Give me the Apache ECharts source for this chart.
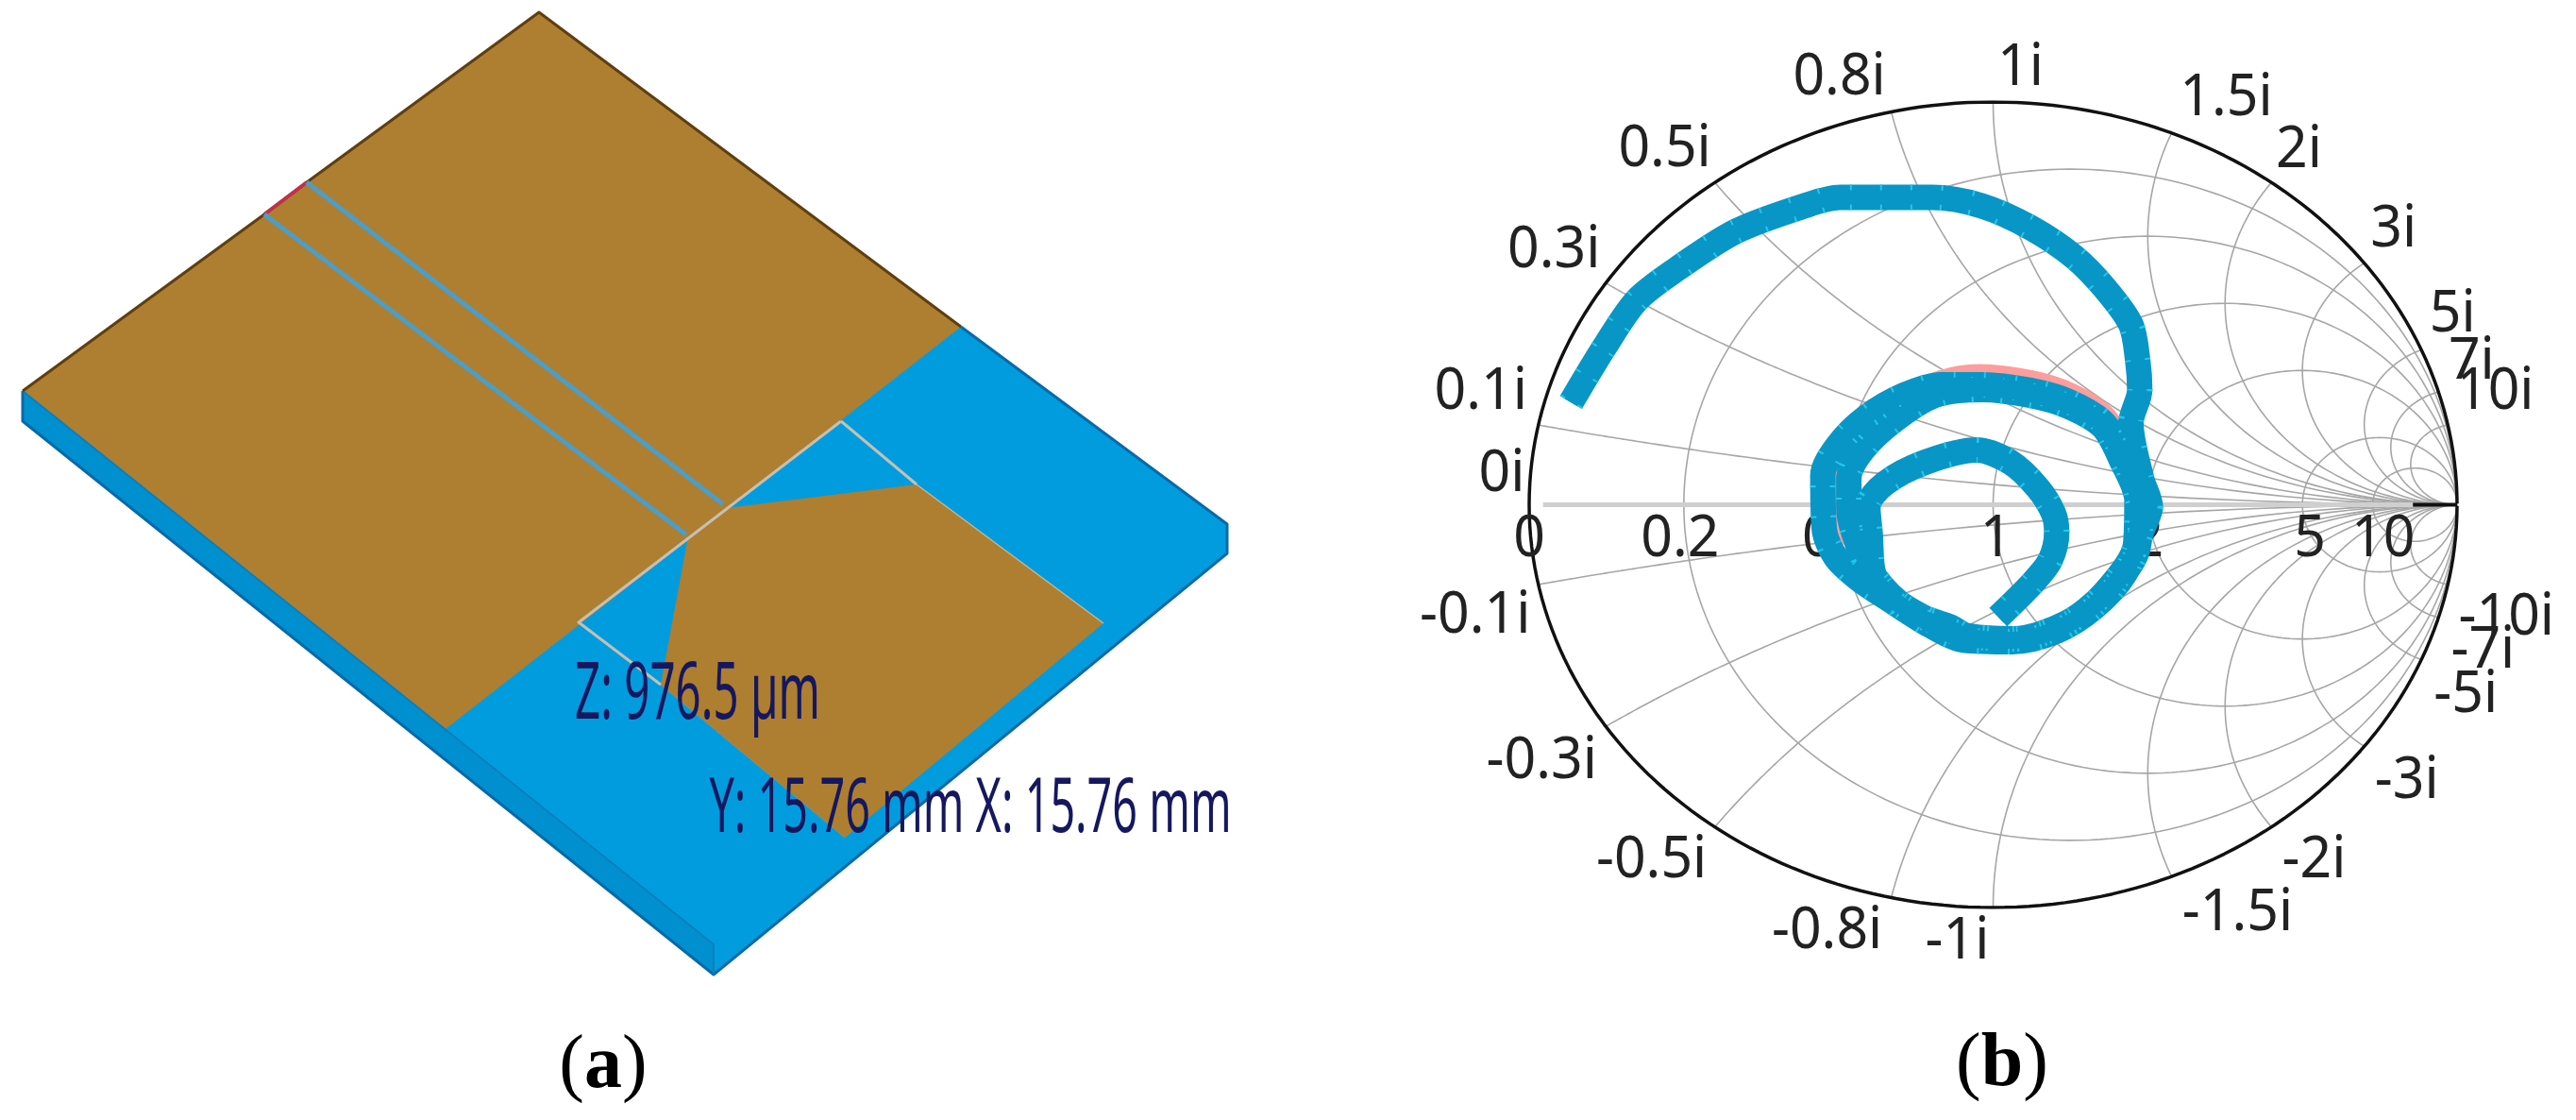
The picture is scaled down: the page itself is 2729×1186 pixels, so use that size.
<!DOCTYPE html>
<html>
<head>
<meta charset="utf-8">
<style>
  html, body { margin: 0; padding: 0; background: #fff; }
  #chart { width: 2729px; height: 1186px; }
</style>
<script src="https://cdn.jsdelivr.net/npm/echarts@6/dist/echarts.min.js"></script>
</head>
<body>
<div id="chart"></div>
<script>
// smith chart ticks
const realTicks = [0, 0.2, 0.5, 1, 2, 5, 10];
const imagTicks = [0.1, 0.3, 0.5, 0.8, 1, 1.5, 2, 3, 5, 7, 10];

const traceRe = [-0.910, -0.837, -0.768, -0.682, -0.554, -0.407, -0.330, -0.132, -0.024, 0.081, 0.175, 0.242, 0.297, 0.312, 0.316, 0.297,
  0.320, 0.339, 0.322, 0.283, 0.218, 0.137, 0.042, -0.063, -0.138, -0.223, -0.289, -0.340, -0.364, -0.367, -0.335, -0.274, -0.192, -0.111, -0.023, 0.079, 0.161, 0.236, 0.274,
  0.304, 0.318, 0.307, 0.239, 0.158, 0.045, -0.057, -0.125, -0.206, -0.270, -0.301, -0.311, -0.311, -0.281, -0.213, -0.125, -0.023, 0.079, 0.161, 0.236, 0.276,
  0.310, 0.307, 0.239, 0.158, 0.045, -0.057, -0.091, -0.182, -0.257, -0.265, -0.270,
  -0.233, -0.145, -0.036, 0.038, 0.096, 0.130, 0.137, 0.123, 0.086, 0.011];
const traceIm = [0.254, 0.393, 0.508, 0.585, 0.679, 0.742, 0.763, 0.763, 0.742, 0.688, 0.615, 0.536, 0.447, 0.355, 0.285, 0.203,
  0.065, -0.005, -0.060, -0.173, -0.255, -0.314, -0.340, -0.336, -0.298, -0.236, -0.185, -0.129, -0.060, 0.073, 0.147, 0.217, 0.272, 0.298, 0.298, 0.284, 0.257, 0.206, 0.136,
  0.042, -0.029, -0.126, -0.228, -0.298, -0.333, -0.325, -0.294, -0.240, -0.154, -0.068, -0.005, 0.065, 0.136, 0.210, 0.272, 0.286, 0.272, 0.245, 0.194, 0.112,
  0.010, -0.099, -0.220, -0.294, -0.333, -0.325, -0.304, -0.263, -0.173, -0.072, -0.005,
  0.053, 0.106, 0.136, 0.105, 0.042, -0.021, -0.068, -0.138, -0.193, -0.279];
// second trace, almost hidden under the first
const pinkRe = [-0.338, -0.338, -0.301, -0.206, -0.111, -0.029, 0.079, 0.167, 0.236, 0.269];
const pinkIm = [-0.099, 0.089, 0.167, 0.253, 0.304, 0.319, 0.304, 0.272, 0.221, 0.167];

// panel (a) outlines, in scene units
const substrate = [[571, 13], [1018, 346], [1300, 555], [1300, 586], [756, 1032], [24, 446], [24, 414]];
const substrateSide = [[24, 414], [24, 446], [756, 1032], [756, 1000]];
const patchMain = [[571, 13], [1018, 346], [472, 772], [24, 414]];
const patchFeed = [[769, 538], [971, 513], [1169, 660], [895, 887], [700, 725], [729, 568]];
const slotUpper = [[325, 193], [766, 534]];
const slotLower = [[280, 227], [727, 566]];
const slotEnd = [[325, 193], [280, 227]];
const edgeTop = [[24, 414], [280, 227], [325, 193], [571, 13], [1018, 346]];
const edgeBlue = [[1018, 346], [1300, 555], [1300, 586], [756, 1032], [24, 446], [24, 414]];
const edgeRidge = [[24, 414], [756, 1000], [756, 1032]];
const seamUpper = [[891, 446], [971, 513]];
const seamRight = [[971, 513], [1169, 660]];
const seamMiddle = [[891, 446], [613, 659], [700, 725]];
const seamLower = [[700, 725], [895, 887]];

const dimensionLabels = ['Z: 976.5 µm', 'Y: 15.76 mm X: 15.76 mm'];

// pixel offset of every tick label from its point on the chart
const realLabelOffset = [[0, 37], [-4, 37], [3, 37], [3, 37], [0, 37], [8, 37], [11, 37]];
const upperLabelOffset = [[-61, -35], [-55, -34], [-53, -35], [-55, -36], [29, -36], [58, -36], [29, -34], [31, -35], [33, -37], [35, -32], [50, -35]];
const lowerLabelOffset = [[-67, 33], [-68, 37], [-67, 36], [-68, 36], [-38, 36], [70, 39], [45, 36], [45, 37], [47, 38], [47, 35], [62, 35]];

const BROWN = '#ae7f30';
const BLUE = '#009cde';
const TRACE = '#0896c6';
const GRID_LINE = '#a6a6a6';

function toGamma(r, x) {
  const d = (r + 1) * (r + 1) + x * x;
  return [(r * r + x * x - 1) / d, 2 * x / d];
}

function resistanceCircle(r) {
  const pts = [];
  for (let i = -120; i <= 120; i++) {
    pts.push(toGamma(r, (1 + r) * Math.tan(i / 120 * Math.PI / 2 * 0.999)));
  }
  return pts;
}

function reactanceArc(x) {
  const pts = [];
  for (let i = 0; i <= 120; i++) {
    pts.push(toGamma(Math.abs(x) * Math.tan(i / 120 * Math.PI / 2 * 0.999), x));
  }
  return pts;
}

function pairs(a, b) {
  return a.map((v, i) => [v, b[i]]);
}

function polygon(points, color, z) {
  return {
    type: 'custom', xAxisIndex: 0, yAxisIndex: 0, z: z, silent: true,
    data: [0],
    renderItem(params, api) {
      return {
        type: 'polygon',
        shape: { points: points.map(p => api.coord(p)) },
        style: { fill: color }
      };
    }
  };
}

function panelLine(points, color, width, z) {
  return {
    type: 'line', xAxisIndex: 0, yAxisIndex: 0, z: z, silent: true,
    data: points, showSymbol: false, animation: false,
    lineStyle: { color: color, width: width, cap: 'butt', join: 'round' }
  };
}

function smithLine(points, color, width, z, extra, smooth) {
  return {
    type: 'line', xAxisIndex: 1, yAxisIndex: 1, z: z, silent: true,
    data: points, showSymbol: false, animation: false, smooth: smooth || false,
    lineStyle: Object.assign({ color: color, width: width, cap: 'butt', join: 'round' }, extra || {})
  };
}

// tick labels of the smith chart, squeezed a little like the original plot
function tickLabels() {
  const items = [];
  realTicks.forEach((t, i) => {
    items.push({ text: String(t), at: toGamma(t, 0), off: realLabelOffset[i] });
  });
  items.push({ text: '0i', at: [-1, 0], off: [-29, -32] });
  imagTicks.forEach((t, i) => {
    items.push({ text: t + 'i', at: toGamma(0, t), off: upperLabelOffset[i] });
    items.push({ text: '-' + t + 'i', at: toGamma(0, -t), off: lowerLabelOffset[i] });
  });
  return {
    type: 'custom', xAxisIndex: 1, yAxisIndex: 1, z: 4, silent: true,
    data: items.map((d, i) => i),
    renderItem(params, api) {
      const d = items[params.dataIndex];
      const c = api.coord(d.at);
      return {
        type: 'text', x: c[0] + d.off[0], y: c[1] + d.off[1], scaleX: 0.95,
        style: { text: d.text, fill: '#222', font: '62px "Noto Sans"', align: 'center', verticalAlign: 'middle' }
      };
    }
  };
}

function dimensionText() {
  const spots = [[[739, 737], 0.565, 84], [[1028, 858], 0.584, 80]];
  return {
    type: 'custom', xAxisIndex: 0, yAxisIndex: 0, z: 9, silent: true,
    data: [0, 1],
    renderItem(params, api) {
      const s = spots[params.dataIndex];
      const c = api.coord(s[0]);
      return {
        type: 'text', x: c[0], y: c[1], scaleX: s[1],
        style: { text: dimensionLabels[params.dataIndex], fill: '#15185f', font: s[2] + 'px "Noto Sans"', align: 'center', verticalAlign: 'middle' }
      };
    }
  };
}

const series = [
  polygon(substrate, BLUE, 1),
  polygon(substrateSide, '#0090cf', 2),
  polygon(patchMain, BROWN, 3),
  polygon(patchFeed, BROWN, 3),
  panelLine(edgeBlue, '#0a6aa8', 3, 4),
  panelLine(edgeRidge, '#0a7fbe', 2, 4),
  panelLine(edgeTop, '#5f3f10', 3, 5),
  panelLine(slotEnd, '#c0304a', 4, 6),
  panelLine(slotUpper, '#4e9dc4', 5, 6),
  panelLine(slotLower, '#4e9dc4', 5, 6),
  panelLine(seamUpper, '#c4c0b4', 3, 6),
  panelLine(seamRight, '#c4b890', 1.5, 6),
  panelLine(seamMiddle, '#c4c0b4', 3, 6),
  panelLine(seamLower, '#9a8a68', 1, 6),
  dimensionText()
];

realTicks.slice(1).forEach(r => {
  series.push(smithLine(resistanceCircle(r), GRID_LINE, 1.6, 2));
});
imagTicks.forEach(x => {
  series.push(smithLine(reactanceArc(x), GRID_LINE, 1.6, 2));
  series.push(smithLine(reactanceArc(-x), GRID_LINE, 1.6, 2));
});
series.push(smithLine([[-0.97, 0], [0.905, 0]], '#cfcfcf', 5, 2));
series.push(smithLine([[0.905, 0], [1, 0]], '#111', 4, 3));
series.push(smithLine(resistanceCircle(0), '#111', 3.5, 3));
series.push(tickLabels());
series.push(smithLine(pairs(pinkRe, pinkIm), '#ff9c9c', 26, 5, null, 0.3));
series.push(smithLine(pairs(traceRe, traceIm), TRACE, 27, 6, null, 0.3));
series.push(smithLine(pairs(traceRe, traceIm), '#24c6ea', 27, 7, { type: [2, 30] }, 0.3));
series.push(smithLine(pairs(traceRe, traceIm), TRACE, 15, 8, null, 0.3));

const chart = echarts.init(document.getElementById('chart'), null, { renderer: 'canvas' });
chart.setOption({
  animation: false,
  backgroundColor: '#fff',
  grid: [
    { left: 0, top: 0, width: 1350, height: 1186 },
    { left: 1620, top: 108, width: 983, height: 853 }
  ],
  xAxis: [
    { type: 'value', gridIndex: 0, min: 0, max: 1350, show: false },
    { type: 'value', gridIndex: 1, min: -1, max: 1, show: false }
  ],
  yAxis: [
    { type: 'value', gridIndex: 0, min: 0, max: 1186, inverse: true, show: false },
    { type: 'value', gridIndex: 1, min: -1, max: 1, show: false }
  ],
  graphic: [
    {
      type: 'text', x: 639, y: 1130, silent: true,
      style: {
        text: '{n|(}{b|a}{n|)}', align: 'center', verticalAlign: 'middle',
        rich: {
          n: { font: '80px "Liberation Serif"', fill: '#000' },
          b: { font: 'bold 80px "Liberation Serif"', fill: '#000' }
        }
      }
    },
    {
      type: 'text', x: 2121, y: 1128, silent: true,
      style: {
        text: '{n|(}{b|b}{n|)}', align: 'center', verticalAlign: 'middle',
        rich: {
          n: { font: '80px "Liberation Serif"', fill: '#000' },
          b: { font: 'bold 80px "Liberation Serif"', fill: '#000' }
        }
      }
    }
  ],
  series: series
});
</script>
</body>
</html>
